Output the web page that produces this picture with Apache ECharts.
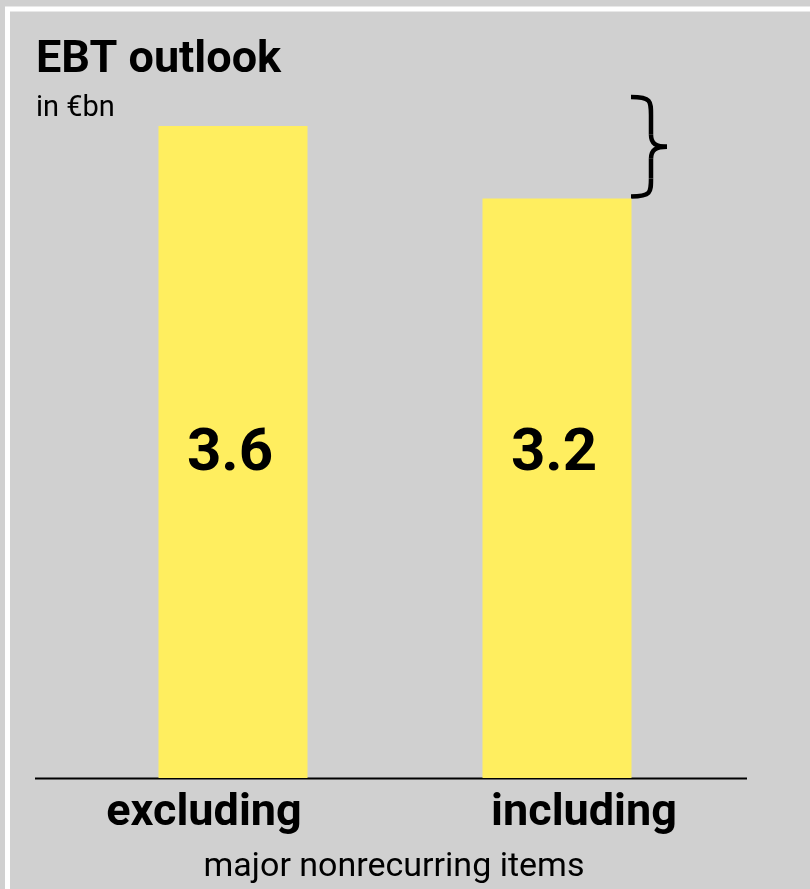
<!DOCTYPE html>
<html>
<head>
<meta charset="utf-8">
<title>EBT outlook</title>
<script src="https://cdn.jsdelivr.net/npm/echarts@6/dist/echarts.min.js"></script>
<style>
  html, body { margin: 0; padding: 0; background: #d0d0d0; }
  #main { width: 810px; height: 889px; }
</style>
</head>
<body>
<div id="main"></div>
<script>
// donnees du graphique
const categories = ['excluding', 'including'];
const ebtValues = [3.6, 3.2];
const axisCaption = 'major nonrecurring items';

const chart = echarts.init(document.getElementById('main'), null, { renderer: 'canvas' });

const option = {
  backgroundColor: '#d0d0d0',
  animation: false,
  title: [
    {
      text: 'EBT outlook',
      left: 31, top: 33,
      textStyle: { fontFamily: 'Roboto', fontWeight: 'bold', fontSize: 45, color: '#000' }
    },
    {
      text: 'in €bn',
      left: 31, top: 89,
      textStyle: { fontFamily: 'Roboto', fontWeight: 'normal', fontSize: 29, color: '#000' }
    }
  ],
  grid: [
    { left: 71, width: 648, top: 126, bottom: 111 },
    { left: 14, width: 760, top: 126, bottom: 111 }
  ],
  xAxis: [
    {
      type: 'category', gridIndex: 0, data: categories,
      axisLine: { show: false }, axisTick: { show: false }, axisLabel: { show: false }
    },
    {
      type: 'category', gridIndex: 1, data: categories,
      axisLine: { show: false }, axisTick: { show: false },
      axisLabel: {
        margin: 14,
        fontFamily: 'Roboto', fontWeight: 'bold', fontSize: 45, color: '#000'
      },
      name: axisCaption,
      nameLocation: 'middle',
      nameGap: 73,
      nameTextStyle: { fontFamily: 'Roboto', fontSize: 34, color: '#000' }
    }
  ],
  yAxis: [
    { type: 'value', gridIndex: 0, min: 0, max: 3.6, show: false },
    { type: 'value', gridIndex: 1, min: 0, max: 3.6, show: false }
  ],
  series: [
    {
      type: 'bar',
      xAxisIndex: 0, yAxisIndex: 0,
      data: ebtValues,
      barWidth: 149,
      itemStyle: { color: '#ffee5f' },
      label: {
        show: true,
        position: 'insideBottom',
        distance: 293,
        offset: [-3, 0],
        formatter: p => p.value.toFixed(1),
        fontFamily: 'Roboto', fontWeight: 'bold', fontSize: 60, color: '#000'
      }
    }
  ]
};

chart.setOption(option);

// ligne d'axe, accolade et cadre blanc
const yZero = chart.convertToPixel({ gridIndex: 0 }, [0, 0])[1];
const yBar2 = chart.convertToPixel({ gridIndex: 0 }, [1, ebtValues[1]])[1];
const bx = 631, bTop = 97, bBottom = yBar2 - 2, bMid = (bTop + bBottom) / 2;
const sx = bx + 20; // tige verticale de l'accolade
const braceStyle = { stroke: '#000', lineWidth: 4.5, fill: null };

function curve(x1, y1, c1x, c1y, c2x, c2y, x2, y2) {
  return {
    type: 'bezierCurve',
    shape: { x1: x1, y1: y1, cpx1: c1x, cpy1: c1y, cpx2: c2x, cpy2: c2y, x2: x2, y2: y2 },
    style: braceStyle
  };
}

chart.setOption({
  graphic: [
    {
      type: 'line',
      shape: { x1: 35, y1: yZero + 0.5, x2: 747, y2: yZero + 0.5 },
      style: { stroke: '#000', lineWidth: 2 }
    },
    curve(bx, bTop, sx, bTop, sx, bTop + 4, sx, bTop + 18),
    { type: 'line', shape: { x1: sx, y1: bTop + 18, x2: sx, y2: bMid - 12 }, style: braceStyle },
    curve(sx, bMid - 12, sx, bMid - 3, sx + 5, bMid, sx + 16, bMid),
    curve(sx + 16, bMid, sx + 5, bMid, sx, bMid + 3, sx, bMid + 12),
    { type: 'line', shape: { x1: sx, y1: bMid + 12, x2: sx, y2: bBottom - 18 }, style: braceStyle },
    curve(sx, bBottom - 18, sx, bBottom - 4, sx, bBottom, bx, bBottom),
    {
      type: 'rect',
      shape: { x: 7.5, y: 9, width: 900, height: 1000 },
      style: { stroke: '#fff', lineWidth: 5, fill: null }
    }
  ]
});

window.addEventListener('resize', () => {
  chart.resize();
});
</script>
</body>
</html>
